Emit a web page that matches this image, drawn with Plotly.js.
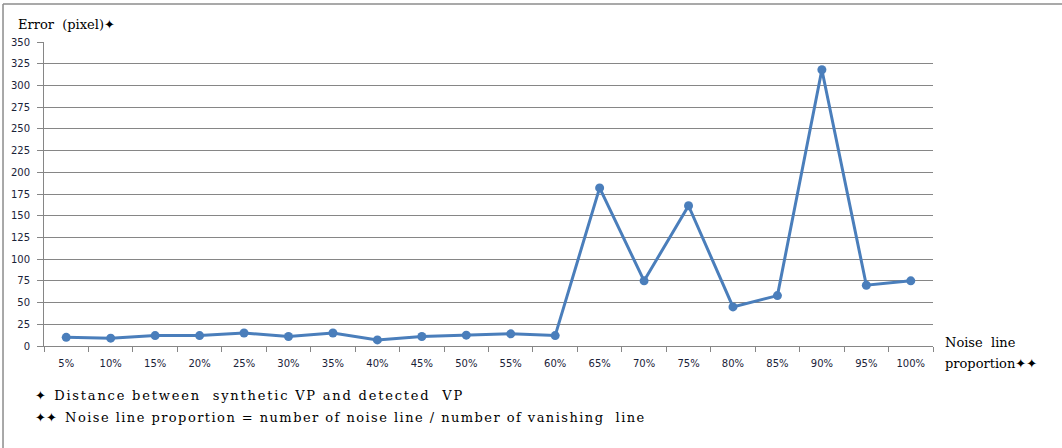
<!DOCTYPE html>
<html>
<head>
<meta charset="utf-8">
<script src="https://cdn.plot.ly/plotly-3.0.1.min.js"></script>
<style>html,body{margin:0;padding:0;background:#fff;}#chart{width:1062px;height:448px;}</style>
</head>
<body>
<div id="chart"></div>
<script>
var categories = ["5%","10%","15%","20%","25%","30%","35%","40%","45%","50%","55%","60%","65%","70%","75%","80%","85%","90%","95%","100%"];
var errorValues = [10, 9, 12, 12, 15, 11, 15, 7, 11, 12.5, 14, 12, 182, 75, 161.5, 45, 58, 318, 70, 75];
var yTickValues = [0,25,50,75,100,125,150,175,200,225,250,275,300,325,350];

var serif = "'DejaVu Serif', 'Liberation Serif', serif";
var star = "<span style='font-family:DejaVu Sans'>✦</span>";
function spaced(s, px) { return "<span style='letter-spacing:" + px + "px'>" + s + "</span>"; }
var trace = {
  x: categories, y: errorValues, type: "scatter", mode: "lines+markers",
  line: {color: "#4a7ebb", width: 3},
  marker: {color: "#4a7ebb", size: 9},
  hoverinfo: "skip", cliponaxis: false
};
var layout = {
  width: 1062, height: 448,
  margin: {l: 44, r: 129, t: 42, b: 102},
  paper_bgcolor: "#fff", plot_bgcolor: "#fff",
  showlegend: false,
  xaxis: {
    type: "category", range: [-0.5, categories.length - 0.5], autorange: false,
    tickson: "boundaries", ticks: "outside", ticklen: 5, tickcolor: "#868686",
    showgrid: false, showline: true, linecolor: "#868686", linewidth: 1,
    tickfont: {family: "'DejaVu Sans', Verdana, sans-serif", size: 10, color: "#1a2238"},
    ticklabelstandoff: 8,
    zeroline: false, fixedrange: true
  },
  yaxis: {
    range: [0, 350], autorange: false, tickvals: yTickValues, ticks: "outside", ticklen: 6, tickcolor: "#868686",
    showgrid: true, gridcolor: "#868686", gridwidth: 1,
    showline: true, linecolor: "#868686", zeroline: false,
    tickfont: {family: "'DejaVu Sans', Verdana, sans-serif", size: 10, color: "#1a2238"},
    ticklabelstandoff: 5,
    fixedrange: true
  },
  shapes: [
    {type: "line", xref: "paper", yref: "paper", x0: -0.0461, x1: 1.2, y0: 1.125, y1: 1.125,
     line: {color: "#8c8c8c", width: 1.5}},
    {type: "line", xref: "paper", yref: "paper", x0: -0.0461, x1: -0.0461, y0: 1.125, y1: -0.4,
     line: {color: "#8c8c8c", width: 1.5}}
  ],
  annotations: [
    {text: "Error  (pixel)" + star, xref: "paper", yref: "paper", x: -0.0315, y: 1.059,
     xanchor: "left", yanchor: "middle", showarrow: false, font: {family: serif, size: 13, color: "#000"}},
    {text: "Noise  line", xref: "paper", yref: "paper", x: 1.0113, y: 0.01,
     xanchor: "left", yanchor: "middle", showarrow: false, font: {family: serif, size: 13, color: "#000"}},
    {text: "proportion" + star + star, xref: "paper", yref: "paper", x: 1.0113, y: -0.056,
     xanchor: "left", yanchor: "middle", showarrow: false, font: {family: serif, size: 13, color: "#000"}},
    {text: star + "  " + spaced("Distance between  synthetic VP and detected  VP", 1.8), xref: "paper", yref: "paper", x: -0.0124, y: -0.164,
     xanchor: "left", yanchor: "middle", showarrow: false, font: {family: serif, size: 13, color: "#000"}},
    {text: star + star + "  " + spaced("Noise line proportion = number of noise line / number of vanishing  line", 1.45), xref: "paper", yref: "paper", x: -0.0124, y: -0.234,
     xanchor: "left", yanchor: "middle", showarrow: false, font: {family: serif, size: 13, color: "#000"}}
  ]
};
Plotly.newPlot("chart", [trace], layout, {staticPlot: true, displayModeBar: false});
</script>
</body>
</html>
